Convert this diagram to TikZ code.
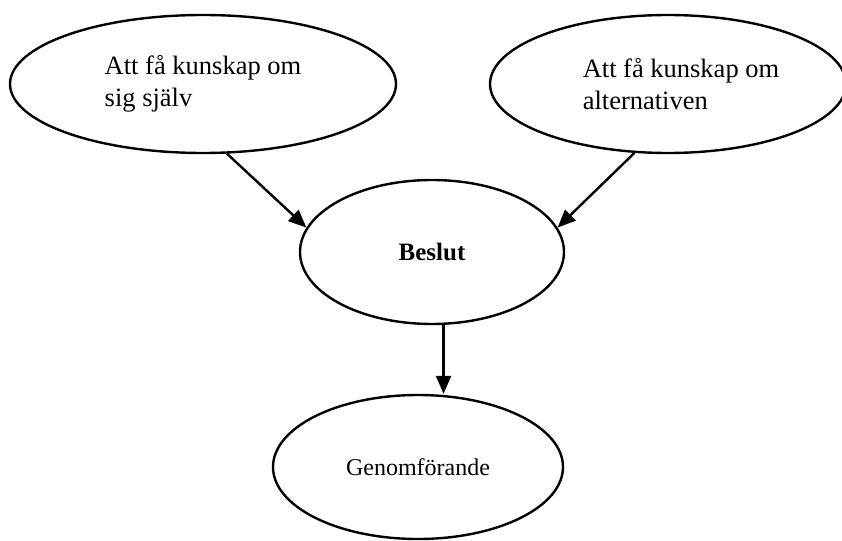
\documentclass[tikz,border=0pt]{standalone}
\usepackage{fontspec}
\setmainfont{Liberation Serif}
\usetikzlibrary{shapes.geometric,arrows.meta}

\begin{document}
\begin{tikzpicture}[x=1pt,y=1pt,
  mal/.style={draw, ellipse, line width=2.4pt, inner sep=0pt, align=left,
    font=\fontsize{26.5}{32}\selectfont},
  pil/.style={line width=2.4pt, -{Triangle[length=18pt,width=15pt]}}]
\useasboundingbox (0,0) rectangle (842,-540);
\node[mal, minimum width=386pt, minimum height=138pt] (sjalv) at (203,-84) {Att få kunskap om\\sig själv};
\node[mal, minimum width=356pt, minimum height=138pt] (alt) at (668,-84) {\hspace*{26pt}Att få kunskap om\\\hspace*{26pt}alternativen};
\node[mal, minimum width=264pt, minimum height=144pt, font=\fontsize{25}{30}\selectfont\bfseries] (beslut) at (432,-252) {Beslut};
\node[mal, minimum width=290pt, minimum height=144pt, font=\fontsize{24}{30}\selectfont] (genom) at (418,-467) {Genomförande};
\draw[pil] (sjalv.-71) -- (beslut.169);
\draw[pil] (alt.-116) -- (beslut.11);
\draw[pil] (beslut.-81) -- (beslut.-81 |- genom.north);
\end{tikzpicture}
\end{document}
